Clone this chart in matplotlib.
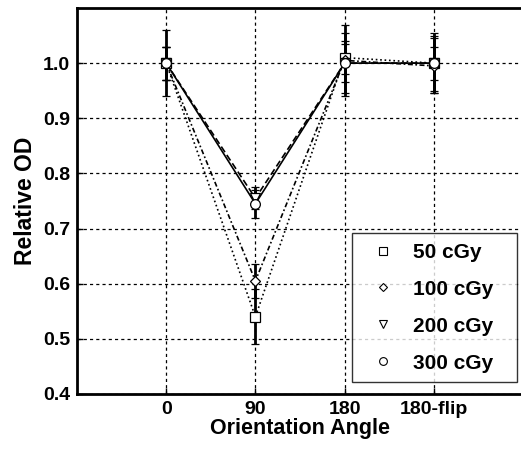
import numpy as np
import matplotlib.pyplot as plt
from matplotlib.lines import Line2D

plt.rcParams['font.family'] = ['Liberation Sans', 'DejaVu Sans']
plt.rcParams['font.weight'] = 'bold'

# data
angles = ['0', '90', '180', '180-flip']
doses = ['50 cGy', '100 cGy', '200 cGy', '300 cGy']
od_50 = [1.0, 0.54, 1.01, 1.0]
od_100 = [1.0, 0.605, 1.005, 0.995]
od_200 = [1.0, 0.755, 1.0, 1.0]
od_300 = [1.0, 0.745, 1.0, 1.0]
err_50 = [0.03, 0.05, 0.03, 0.05]
err_100 = [0.06, 0.03, 0.065, 0.05]
err_200 = [0.03, 0.02, 0.035, 0.03]
err_300 = [0.03, 0.025, 0.055, 0.055]

values = [od_50, od_100, od_200, od_300]
errors = [err_50, err_100, err_200, err_300]
markers = ['s', 'D', 'v', 'o']
msizes = [7, 5.5, 7, 7]
styles = [':', (0, (3, 1.5, 1, 1.5)), (0, (4, 2)), '-']

x = np.arange(1, len(angles) + 1)

fig = plt.figure(figsize=(5.21, 4.49), dpi=100)
ax = fig.add_axes([77 / 521, 1 - 394 / 449, 446 / 521, 386 / 449])

for v, e, m, ms, ls in zip(values, errors, markers, msizes, styles):
    ax.errorbar(x, v, yerr=e, color='black', linestyle=ls, linewidth=1.2,
                marker=m, markersize=ms, markerfacecolor='white',
                markeredgecolor='black', markeredgewidth=0.9,
                ecolor='black', elinewidth=2, capsize=3, capthick=2)

ax.set_xlim(0, 5)
ax.set_ylim(0.4, 1.1)
ax.set_xticks(x)
ax.set_xticklabels(angles)
ax.set_yticks(np.arange(0.4, 1.01, 0.1))
ax.set_yticklabels([f'{t:.1f}' for t in np.arange(0.4, 1.01, 0.1)])
ax.tick_params(direction='in', labelsize=14, length=4, width=1, pad=5)
ax.grid(True, color='black', linestyle=(0, (2.5, 2.5)), linewidth=0.9)
for s in ax.spines.values():
    s.set_linewidth(2)

ax.set_xlabel('Orientation Angle', fontsize=15.5, fontweight='bold', labelpad=0)
ax.set_ylabel('Relative OD', fontsize=16.5, fontweight='bold', labelpad=4)

handles = [Line2D([], [], linestyle='none', marker=m, markersize=ms * 0.8,
                  markerfacecolor='white', markeredgecolor='black',
                  markeredgewidth=0.8) for m, ms in zip(markers, msizes)]
leg = ax.legend(handles, doses, loc='lower left', fontsize=15, mode='expand',
                bbox_to_anchor=((352 - 77) / 446, 12 / 386, 165 / 446, 0.3),
                frameon=True, fancybox=False, edgecolor='black',
                borderpad=0.45, labelspacing=0.86, handlelength=2.08,
                handletextpad=0.4, borderaxespad=0)
leg.get_frame().set_linewidth(1)
for t in leg.get_texts():
    t.set_fontweight('bold')

fig.savefig('out.png', dpi=100)
